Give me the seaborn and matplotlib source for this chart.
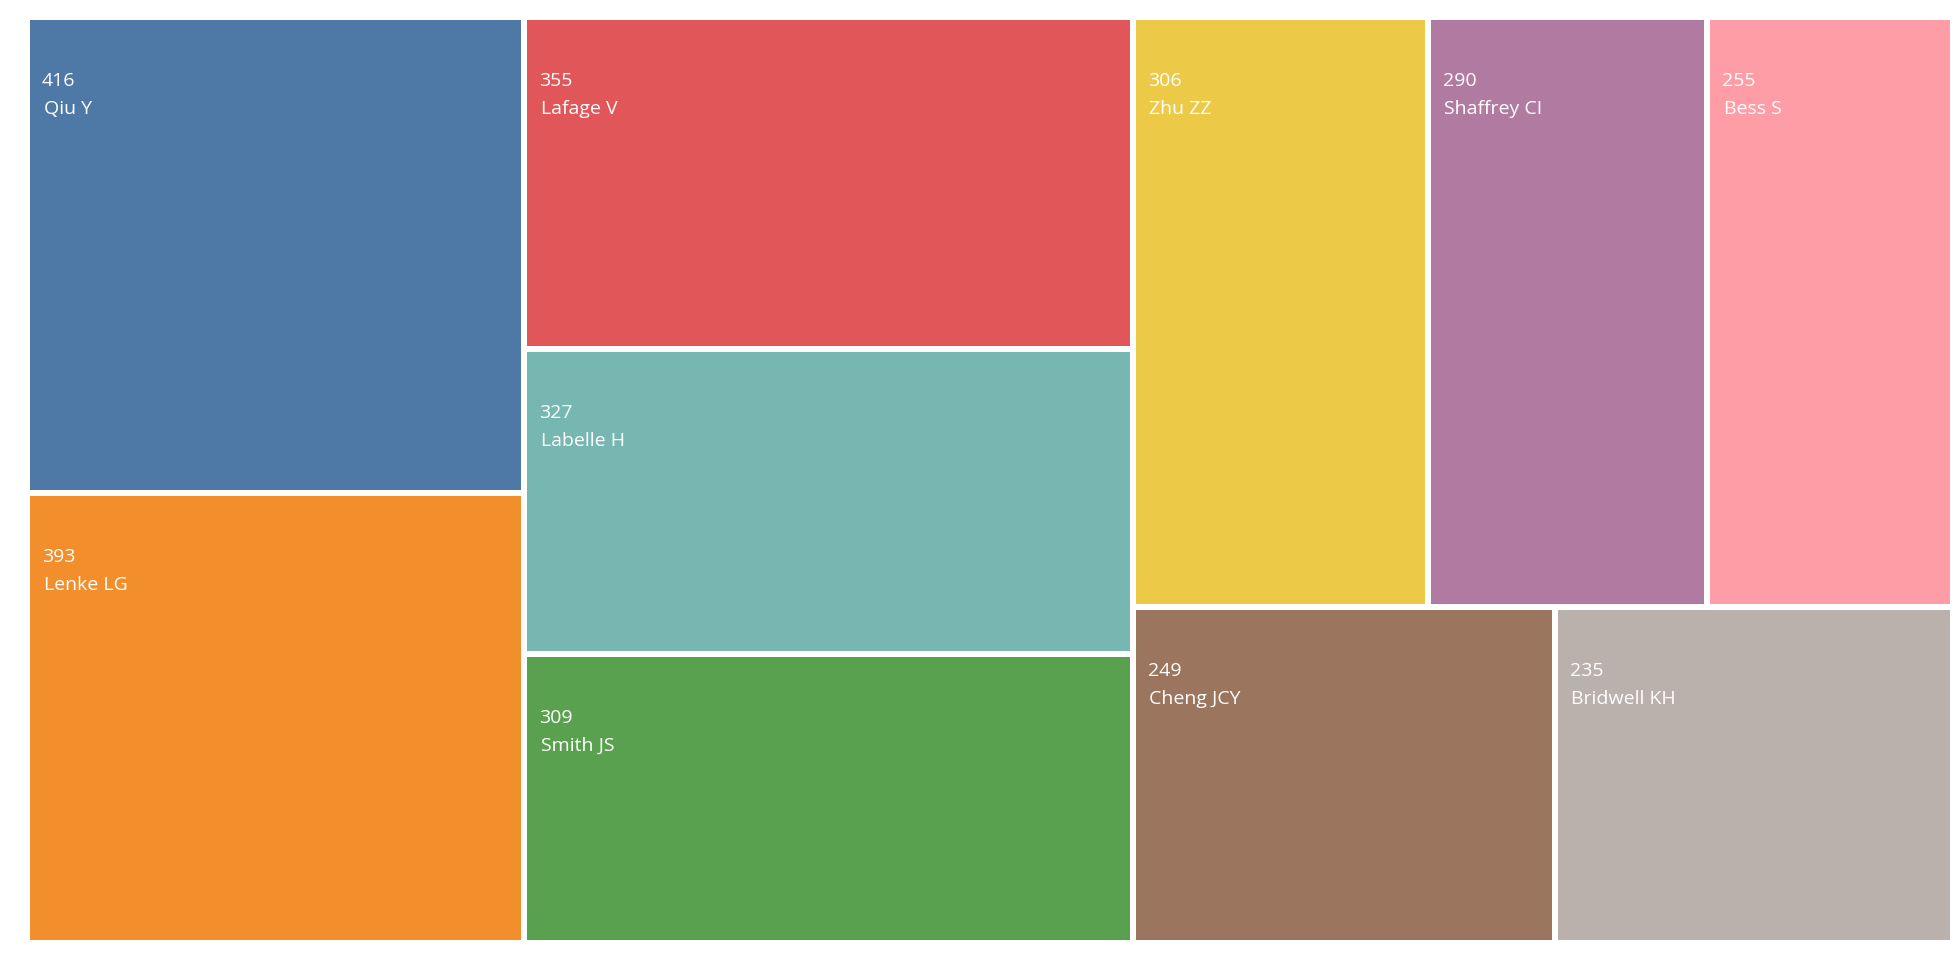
import matplotlib
matplotlib.use("Agg")
import matplotlib.pyplot as plt
from matplotlib.patches import Rectangle
import seaborn as sns

names = ["Qiu Y", "Lenke LG", "Lafage V", "Labelle H", "Smith JS",
         "Zhu ZZ", "Shaffrey CI", "Bess S", "Cheng JCY", "Bridwell KH"]
values = [416, 393, 355, 327, 309, 306, 290, 255, 249, 235]
colors = ["#4e79a7", "#f28e2b", "#e15759", "#76b7b2", "#59a14f",
          "#edc948", "#b07aa1", "#ff9da7", "#9c755f", "#bab0ac"]

sns.set_theme(style="white")
plt.rcParams['font.family'] = ['Open Sans', 'DejaVu Sans']

W, H = 1960, 960
X0, Y0, X1, Y1 = 27, 17, 1953, 943
GAP = 3
PHI = 0.5 * (1 + 5 ** 0.5)  # ECharts-style square ratio


def worst(row, fixed):
    s = sum(row)
    if s <= 0:
        return float("inf")
    f = fixed * fixed * PHI
    return max(f * max(row) / (s * s), (s * s) / (f * min(row)))


def place(row, rect):
    x, y, w, h = rect
    s = sum(row)
    out = []
    if w >= h:
        cw = s / h
        cy = y
        for a in row:
            ph = a / cw
            out.append((x, cy, cw, ph))
            cy += ph
        new = (x + cw, y, w - cw, h)
    else:
        rh = s / w
        cx = x
        for a in row:
            pw = a / rh
            out.append((cx, y, pw, rh))
            cx += pw
        new = (x, y + rh, w, h - rh)
    return out, new


def squarify(areas, rect):
    out = []
    remaining = list(areas)
    row = []
    best = float("inf")
    fixed = min(rect[2], rect[3])
    while remaining:
        cand = row + [remaining[0]]
        score = worst(cand, fixed)
        if score <= best:
            row = cand
            remaining.pop(0)
            best = score
        else:
            placed, rect = place(row, rect)
            out += placed
            fixed = min(rect[2], rect[3])
            row = []
            best = float("inf")
    if row:
        placed, rect = place(row, rect)
        out += placed
    return out


dx, dy = X1 - X0, Y1 - Y0
total = sum(values)
areas = [v / total * dx * dy for v in values]
rects = squarify(areas, (X0, Y0, dx, dy))

fig = plt.figure(figsize=(W / 100, H / 100), dpi=100)
ax = fig.add_axes([0, 0, 1, 1])
ax.set_xlim(0, W)
ax.set_ylim(H, 0)
ax.axis("off")

for (x, y, w, h), name, val, col in zip(rects, names, values, colors):
    rx, ry, rw, rh = x + GAP, y + GAP, w - 2 * GAP, h - 2 * GAP
    ax.add_patch(Rectangle((rx, ry), rw, rh, facecolor=col, edgecolor="none"))
    ax.text(rx + 12, ry + 66, str(val), color="white", fontsize=14,
            va="baseline", ha="left")
    ax.text(rx + 13.5, ry + 94, name, color="white", fontsize=14,
            va="baseline", ha="left")

fig.savefig("out.png", dpi=100, facecolor="white")
